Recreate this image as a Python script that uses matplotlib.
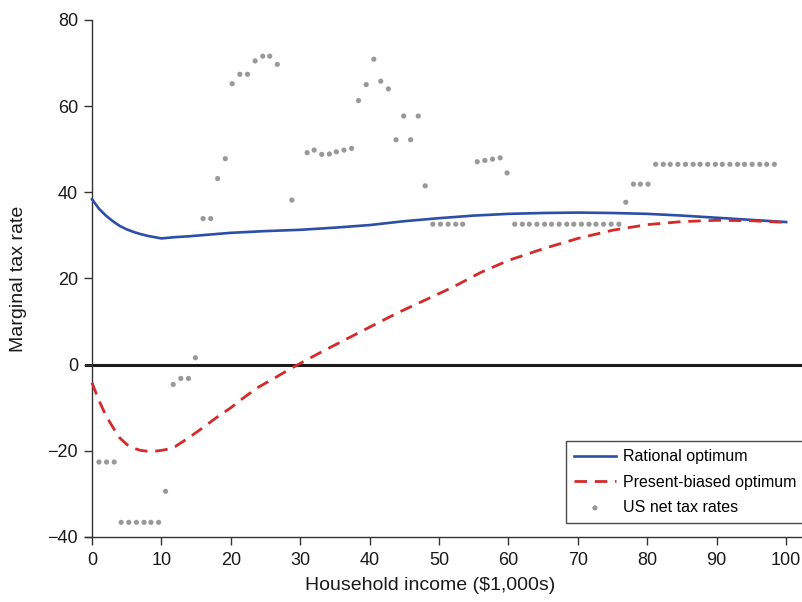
import matplotlib
matplotlib.use("Agg")
import matplotlib.pyplot as plt

plt.rcParams['font.family'] = ['Liberation Sans', 'DejaVu Sans']

# rational optimum
rational_x = [0, 1, 2, 3, 4, 5, 6, 7, 8, 9, 10, 12, 14, 17, 20, 25, 30, 35, 40,
              45, 50, 55, 60, 65, 70, 75, 80, 85, 90, 95, 100]
rational_y = [38.4, 36.2, 34.6, 33.3, 32.2, 31.4, 30.8, 30.3, 29.9, 29.6, 29.3,
              29.6, 29.8, 30.2, 30.6, 31.0, 31.3, 31.8, 32.4, 33.3, 34.0, 34.6,
              35.0, 35.2, 35.3, 35.2, 35.0, 34.6, 34.1, 33.6, 33.1]

# present-biased optimum
biased_x = [0, 1, 2, 3, 4, 5, 6, 7, 8, 9, 10, 11, 12, 14, 16, 18, 20, 22, 24, 26,
            28, 30, 33, 36, 40, 44, 48, 52, 56, 60, 65, 70, 75, 80, 85, 90, 95, 100]
biased_y = [-4.2, -8.3, -11.8, -14.5, -17.0, -18.5, -19.4, -19.9, -20.1, -20.1,
            -19.9, -19.6, -19.0, -16.9, -14.6, -12.2, -10.0, -7.5, -5.2, -3.4,
            -1.5, 0.3, 2.9, 5.4, 8.7, 12.0, 15.0, 18.0, 21.4, 24.2, 26.9, 29.3,
            31.2, 32.5, 33.2, 33.5, 33.4, 33.0]

# US net tax rates
us_x = [1.0, 2.1, 3.2, 4.2, 5.3, 6.4, 7.5, 8.5, 9.6, 10.6, 11.7, 12.8, 13.9, 14.9,
        16.0, 17.1, 18.1, 19.2, 20.2, 21.3, 22.4, 23.5, 24.6, 25.6, 26.7, 28.8,
        31.0, 32.0, 33.1, 34.2, 35.2, 36.3, 37.4, 38.4, 39.5, 40.6, 41.6, 42.7,
        43.8, 44.9, 45.9, 47.0, 48.0, 49.1, 50.2, 51.3, 52.4, 53.4,
        55.5, 56.6, 57.7, 58.8, 59.8,
        60.9, 62.0, 63.0, 64.1, 65.2, 66.2, 67.3, 68.4, 69.4, 70.5, 71.6, 72.6,
        73.7, 74.8, 75.9, 76.9, 78.0, 79.0, 80.1,
        81.2, 82.3, 83.3, 84.4, 85.5, 86.6, 87.6, 88.7, 89.8, 90.8, 91.9, 93.0,
        94.0, 95.1, 96.2, 97.2, 98.3]
us_y = [-22.6, -22.6, -22.6, -36.6, -36.6, -36.6, -36.6, -36.6, -36.6, -29.4,
        -4.6, -3.2, -3.2, 1.6, 33.9, 33.9, 43.2, 47.8, 65.2, 67.4, 67.4, 70.5,
        71.6, 71.6, 69.7, 38.2,
        49.2, 49.8, 48.8, 48.9, 49.4, 49.8, 50.2, 61.3, 65.0, 70.9, 65.8, 64.0,
        52.2, 57.7, 52.2, 57.7, 41.5, 32.6, 32.6, 32.6, 32.6, 32.6,
        47.1, 47.4, 47.7, 48.0, 44.5,
        32.6, 32.6, 32.6, 32.6, 32.6, 32.6, 32.6, 32.6, 32.6, 32.6, 32.6, 32.6,
        32.6, 32.6, 32.6, 37.7, 41.9, 41.9, 41.9,
        46.5, 46.5, 46.5, 46.5, 46.5, 46.5, 46.5, 46.5, 46.5, 46.5, 46.5, 46.5,
        46.5, 46.5, 46.5, 46.5, 46.5]

x_ticks = [0, 10, 20, 30, 40, 50, 60, 70, 80, 90, 100]
y_ticks = [-40, -20, 0, 20, 40, 60, 80]

fig = plt.figure(figsize=(8.03, 6.02), dpi=100)
ax = fig.add_axes([0.1059, 0.108, 0.893, 0.8588])

ax.axhline(0, color='#1a1a1a', lw=2.2, zorder=1)
ax.scatter(us_x, us_y, s=14, color='#999999', edgecolors='none', zorder=2,
           label='US net tax rates')
ax.plot(rational_x, rational_y, color='#2b4ea6', lw=1.9, zorder=3,
        label='Rational optimum')
ax.plot(biased_x, biased_y, color='#d42a2a', lw=2.0, dashes=(4.5, 2.8), zorder=3,
        label='Present-biased optimum')

ax.set_xlim(-1, 102.3)
ax.set_ylim(-40, 80)
ax.set_xticks(x_ticks)
ax.set_yticks(y_ticks)

for s in ['top', 'right']:
    ax.spines[s].set_visible(False)
ax.spines['left'].set_position(('data', 0))
for s in ['left', 'bottom']:
    ax.spines[s].set_color('#333333')
    ax.spines[s].set_linewidth(1.0)

ax.tick_params(axis='both', labelsize=13, length=6, width=1.0,
               color='#333333', labelcolor='#1a1a1a')
ax.tick_params(axis='x', pad=5)
ax.tick_params(axis='y', pad=4)

ax.set_xlabel('Household income ($1,000s)', fontsize=14, color='#1a1a1a')
ax.xaxis.set_label_coords(0.481, -0.077)
ax.set_ylabel('Marginal tax rate', fontsize=14, color='#1a1a1a')
ax.yaxis.set_label_coords(-0.081, 0.5)

handles, labels = ax.get_legend_handles_labels()
order = [1, 2, 0]
leg = ax.legend([handles[i] for i in order], [labels[i] for i in order],
                loc='lower right', bbox_to_anchor=(1.003, 0.027),
                fontsize=11.5, frameon=True, fancybox=False, borderaxespad=0,
                handlelength=2.6, handletextpad=0.45, labelspacing=0.65,
                borderpad=0.5, markerscale=1.0)
leg.get_frame().set_edgecolor('#1a1a1a')
leg.get_frame().set_linewidth(1.0)

fig.savefig('out.png', dpi=100)
